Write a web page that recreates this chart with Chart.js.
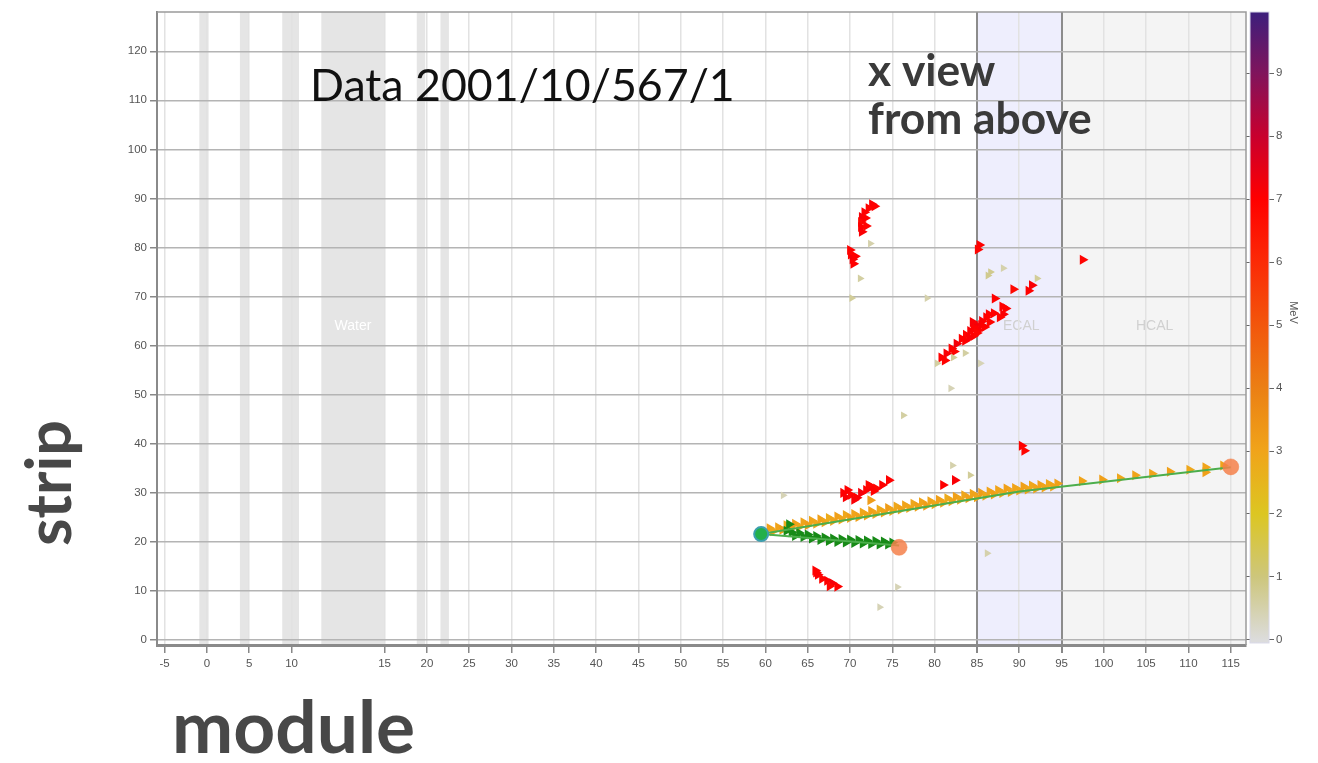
<!DOCTYPE html>
<html>
<head>
<meta charset="utf-8">
<title>x view – module vs strip</title>
<script src="https://cdn.jsdelivr.net/npm/chart.js@4.4.1/dist/chart.umd.min.js"></script>
<style>
  html, body { margin: 0; padding: 0; background: #ffffff; }
  canvas { display: block; }
</style>
</head>
<body>
<canvas id="display" width="1318" height="763"></canvas>
<script>
// ---- axis labels ----
const moduleTicks = [-5, 0, 5, 10, 15, 20, 25, 30, 35, 40, 45, 50, 55, 60, 65, 70, 75, 80, 85, 90, 95, 100, 105, 110, 115];
const stripTicks = [0, 10, 20, 30, 40, 50, 60, 70, 80, 90, 100, 110, 120];
const energyTicks = [0, 1, 2, 3, 4, 5, 6, 7, 8, 9];

// ---- detector regions, in module units ----
const passiveBands = [[-0.9, 0.2], [3.9, 4.9], [8.9, 10.4], [18.8, 19.8], [21.6, 22.6]];
const waterRange = [11.6, 15];
const ecalRange = [85, 95];
const hcalRange = [95, 117];

// ---- energy colour scale (MeV -> colour) ----
const energyStops = [0, 1, 2, 3, 4, 5, 6, 7, 8, 9, 10];
const energyColors = ['#dcdcdc', '#cdc67c', '#dcc622', '#f0a41a', '#eb7f14', '#f2560c', '#fb2a06', '#ff0000', '#c8002e', '#80145c', '#3a1f7d'];

// ---- reconstructed objects ----
const vertex = [[59.5, 21.6]];
const trackEnds = [[115.0, 35.3], [75.8, 18.9]];
const track1Nodes = [[59.5, 21.6], [90.0, 30.3], [115.0, 35.2]];
const track2Nodes = [[59.5, 21.6], [75.8, 19.3]];

// ---- hits on the long track: [module, strip, MeV] ----
const track1Hits = [
  [60.5, 22.8, 3.1], [60.9, 22.2, 2.9], [61.5, 23.0, 3.0], [62.0, 22.5, 3.2], [62.5, 23.4, 2.8],
  [63.0, 22.8, 3.0], [63.5, 23.7, 3.1], [64.0, 23.1, 2.9], [64.5, 24.0, 3.0], [65.0, 23.4, 3.2],
  [65.5, 24.3, 3.0], [66.0, 23.7, 2.9], [66.5, 24.6, 3.1], [67.0, 24.0, 3.0], [67.5, 24.9, 2.8],
  [68.0, 24.3, 3.0], [68.5, 25.2, 3.1], [69.0, 24.6, 3.0], [69.5, 25.5, 2.9], [70.0, 24.9, 3.2],
  [70.5, 25.7, 3.0], [71.0, 25.1, 3.1], [71.5, 26.0, 2.9], [72.0, 25.4, 3.0], [72.5, 26.3, 3.1],
  [73.0, 25.7, 3.0], [73.5, 26.6, 2.8], [74.0, 26.0, 3.0], [74.5, 26.9, 3.2], [75.0, 26.3, 3.0],
  [75.5, 27.2, 2.9], [76.0, 26.6, 3.1], [76.5, 27.5, 3.0], [77.0, 26.9, 3.0], [77.5, 27.8, 2.9],
  [78.0, 27.2, 3.1], [78.5, 28.1, 3.0], [79.0, 27.4, 3.2], [79.5, 28.3, 3.0], [80.0, 27.7, 2.9],
  [80.5, 28.6, 3.1], [81.0, 28.0, 3.0], [81.5, 28.9, 2.8], [82.0, 28.3, 3.0], [82.5, 29.2, 3.1],
  [83.0, 28.6, 3.0], [83.5, 29.5, 2.9], [84.0, 28.9, 3.1], [84.5, 29.8, 3.0], [85.0, 29.1, 3.0],
  [85.5, 30.0, 3.2], [86.0, 29.4, 2.9], [86.5, 30.3, 3.0], [87.0, 29.7, 3.1], [87.5, 30.6, 3.0],
  [88.0, 30.0, 2.9], [88.5, 30.9, 3.1], [89.0, 30.2, 3.0], [89.5, 31.0, 3.0], [90.0, 30.5, 2.9],
  [90.5, 31.3, 3.1], [91.0, 30.7, 3.0], [91.5, 31.5, 2.9], [92.0, 30.9, 3.0], [92.5, 31.6, 3.1],
  [93.0, 31.1, 3.0], [93.5, 31.8, 2.9], [94.0, 31.3, 3.0], [94.5, 31.9, 3.1],
  [97.4, 32.4, 3.0], [99.8, 32.7, 3.1], [101.9, 33.0, 2.9], [103.7, 33.6, 3.0], [105.7, 33.9, 3.0],
  [107.8, 34.3, 3.1], [110.1, 34.7, 2.9], [112.0, 35.2, 3.0], [112.0, 34.2, 3.1], [114.1, 35.6, 3.0]
];

// ---- hits on the short track: [module, strip] ----
const track2Hits = [
  [62.5, 22.3], [62.8, 23.6], [63.1, 22.0], [63.5, 21.2], [64.0, 21.8], [64.5, 21.0], [65.0, 21.5],
  [65.5, 20.7], [66.0, 21.2], [66.5, 20.4], [67.0, 20.9], [67.5, 20.2], [68.0, 20.7], [68.5, 20.0],
  [69.0, 20.6], [69.5, 19.9], [70.0, 20.5], [70.5, 19.8], [71.0, 20.4], [71.5, 19.7], [72.0, 20.3],
  [72.5, 19.6], [73.0, 20.2], [73.5, 19.5], [74.0, 20.1], [74.5, 19.5], [75.0, 19.9]
];

// ---- unassociated hits: [module, strip, MeV] ----
const otherHits = [
  // upper cluster
  [72.6, 88.8, 7.1], [72.2, 88.0, 6.9], [71.7, 87.2, 7.0], [71.4, 86.2, 7.2], [71.3, 85.2, 6.8],
  [71.3, 84.2, 7.0], [71.4, 83.2, 7.1], [71.8, 86.0, 7.0], [71.9, 84.4, 6.9], [72.9, 88.4, 7.0],
  [70.0, 79.5, 7.0], [70.1, 78.6, 6.9], [70.3, 77.6, 7.2], [70.4, 76.7, 7.0], [70.6, 78.2, 7.0],
  // shower toward the ECAL
  [80.8, 57.6, 7.0], [81.4, 58.4, 7.1], [82.0, 59.4, 7.0], [82.6, 60.4, 7.2], [83.2, 61.4, 7.0],
  [83.7, 62.2, 6.9], [84.2, 63.0, 7.1], [84.6, 62.0, 7.0], [84.9, 64.2, 7.2], [85.2, 63.2, 7.0],
  [85.6, 65.0, 7.1], [86.1, 65.8, 7.0], [86.5, 64.8, 6.9], [87.0, 66.6, 7.0], [88.1, 66.4, 7.1],
  [88.4, 67.6, 7.0], [87.1, 69.6, 7.0], [89.3, 71.5, 6.8], [91.1, 71.2, 7.0], [91.5, 72.3, 7.1],
  [81.2, 57.0, 7.0], [82.3, 58.8, 6.9], [83.6, 61.0, 7.0], [84.1, 61.6, 7.1], [84.6, 63.6, 7.0],
  [85.0, 62.6, 6.9], [85.5, 64.2, 7.1], [85.9, 63.8, 7.0], [86.4, 66.4, 7.0], [84.5, 64.8, 7.1],
  [87.7, 65.8, 6.9], [88.0, 68.0, 7.0],
  [85.3, 80.5, 7.0], [85.1, 79.6, 6.9], [97.5, 77.5, 6.9],
  // near the vertex
  [69.2, 30.0, 7.0], [69.5, 29.1, 7.1], [70.1, 29.6, 6.9], [70.8, 29.0, 7.0], [71.3, 30.0, 7.2],
  [71.9, 30.6, 7.0], [72.5, 31.3, 7.1], [73.1, 30.9, 6.9], [73.8, 31.6, 7.0], [74.6, 32.6, 7.0],
  [69.7, 30.6, 7.0], [70.5, 28.6, 7.1], [72.2, 31.6, 6.9], [72.8, 30.4, 7.0],
  [72.4, 28.5, 3.2],
  [65.9, 14.2, 7.0], [66.2, 13.3, 7.1], [66.7, 12.5, 6.9], [67.3, 12.1, 7.0], [67.9, 11.6, 7.2], [68.5, 10.9, 7.0],
  [66.0, 13.8, 7.0], [67.6, 11.0, 6.9],
  [81.0, 31.6, 7.0], [82.4, 32.6, 7.1], [90.3, 39.6, 7.0], [90.6, 38.6, 6.9],
  // low-energy hits
  [72.4, 80.8, 0.5], [71.2, 73.7, 0.6], [70.2, 69.7, 0.7], [79.1, 69.7, 0.5], [86.3, 74.3, 0.8],
  [86.6, 75.0, 0.8], [88.1, 75.8, 0.5], [92.1, 73.7, 0.7], [82.2, 57.6, 0.7], [83.6, 58.5, 0.6],
  [85.4, 56.4, 0.4], [80.3, 56.4, 0.6], [82.1, 35.6, 0.5], [84.2, 33.6, 0.7], [62.1, 29.5, 0.4],
  [76.3, 45.8, 0.6], [73.5, 6.7, 0.4], [86.2, 17.7, 0.5], [75.6, 10.8, 0.4], [81.9, 51.3, 0.4]
];

// The drawn axis gives the water target extra room between modules 10 and 15.
function toAxis(m) {
  if (m <= 10) return m;
  if (m < 15) return 10 + (m - 10) * 11 / 5;
  return m + 6;
}

function hexToRgb(h) {
  const n = parseInt(h.slice(1), 16);
  return [(n >> 16) & 255, (n >> 8) & 255, n & 255];
}
function energyColor(e) {
  const v = Math.max(energyStops[0], Math.min(energyStops[energyStops.length - 1], e));
  let i = 0;
  while (i < energyStops.length - 2 && v > energyStops[i + 1]) i++;
  const t = (v - energyStops[i]) / (energyStops[i + 1] - energyStops[i]);
  const a = hexToRgb(energyColors[i]), b = hexToRgb(energyColors[i + 1]);
  const c = a.map((x, k) => Math.round(x + (b[k] - x) * t));
  return 'rgb(' + c.join(',') + ')';
}
// faint hits are drawn a little smaller
const hitRadius = (e) => (e < 1 ? 4.5 : 5.8);

const pt = (p) => ({ x: toAxis(p[0]), y: p[1] });

const TICK_FONT = { family: "'Liberation Sans Narrow', 'Liberation Sans', Arial, sans-serif", size: 11.5 };
const BIG_FONT = "Lato, 'Open Sans', 'DejaVu Sans', sans-serif";

// Detector regions, frame, colour bar and captions
const detectorPlugin = {
  id: 'detector',
  beforeDraw(chart) {
    const { ctx, chartArea: a, scales } = chart;
    const x = scales.x;
    const px = (m) => x.getPixelForValue(toAxis(m));
    ctx.save();
    ctx.beginPath();
    ctx.rect(a.left, a.top, a.right - a.left, a.bottom - a.top);
    ctx.clip();
    ctx.fillStyle = '#f4f4f4';
    ctx.fillRect(px(hcalRange[0]), a.top, px(hcalRange[1]) - px(hcalRange[0]), a.bottom - a.top);
    ctx.fillStyle = '#eeeefd';
    ctx.fillRect(px(ecalRange[0]), a.top, px(ecalRange[1]) - px(ecalRange[0]), a.bottom - a.top);
    ctx.fillStyle = '#e5e5e5';
    ctx.fillRect(px(waterRange[0]), a.top, px(waterRange[1]) - px(waterRange[0]), a.bottom - a.top);
    passiveBands.forEach(b => {
      ctx.fillRect(px(b[0]), a.top, px(b[1]) - px(b[0]), a.bottom - a.top);
    });
    const ly = scales.y.getPixelForValue(64);
    ctx.font = "14px 'Liberation Sans', Arial, sans-serif";
    ctx.textAlign = 'center';
    ctx.textBaseline = 'middle';
    ctx.fillStyle = '#ffffff';
    ctx.fillText('Water', (px(waterRange[0]) + px(waterRange[1])) / 2, ly);
    ctx.fillStyle = '#d0d0d0';
    ctx.fillText('ECAL', (px(ecalRange[0]) + px(ecalRange[1])) / 2 + 2, ly);
    ctx.fillText('HCAL', (px(hcalRange[0]) + px(hcalRange[1])) / 2, ly);
    ctx.restore();
  },
  afterDraw(chart) {
    const { ctx, chartArea: a, scales } = chart;
    ctx.save();
    // frame
    ctx.strokeStyle = '#9a9a9a';
    ctx.lineWidth = 1.5;
    ctx.beginPath();
    ctx.moveTo(a.left, a.top);
    ctx.lineTo(a.right, a.top);
    ctx.lineTo(a.right, a.bottom);
    ctx.stroke();

    // colour bar along the energy axis
    const e = scales.energy;
    const y0 = e.getPixelForValue(energyStops[0]);
    const y1 = e.getPixelForValue(energyStops[energyStops.length - 1]);
    const top = Math.max(a.top, y1);
    const grad = ctx.createLinearGradient(0, y0, 0, y1);
    energyStops.forEach((s, i) => grad.addColorStop(s / energyStops[energyStops.length - 1], energyColors[i]));
    ctx.fillStyle = grad;
    ctx.fillRect(e.left + 4, top, 19, y0 + 3 - top);
    ctx.strokeStyle = '#d8d8e8';
    ctx.lineWidth = 1;
    ctx.strokeRect(e.left + 4, top, 19, y0 + 3 - top);

    // unit label beside the bar
    ctx.translate(e.left + 47, e.getPixelForValue(5.2));
    ctx.rotate(Math.PI / 2);
    ctx.font = "11px 'Liberation Sans', Arial, sans-serif";
    ctx.fillStyle = '#555';
    ctx.textAlign = 'center';
    ctx.textBaseline = 'middle';
    ctx.fillText('MeV', 0, 0);
    ctx.restore();

    const fitText = (text, weight, width, refSize) => {
      ctx.font = weight + ' ' + refSize + 'px ' + BIG_FONT;
      const w = ctx.measureText(text).width;
      ctx.font = weight + ' ' + (refSize * width / w).toFixed(1) + 'px ' + BIG_FONT;
    };

    ctx.save();
    ctx.textBaseline = 'alphabetic';
    ctx.textAlign = 'left';
    ctx.fillStyle = '#111';
    fitText('Data 2001/10/567/1', 'normal', 425, 44);
    ctx.fillText('Data 2001/10/567/1', 310, 101);

    ctx.fillStyle = '#3a3a3a';
    fitText('from above', 'bold', 224, 32);
    ctx.fillText('x view', 868, 86);
    ctx.fillText('from above', 868, 134);

    ctx.fillStyle = '#484848';
    fitText('module', 'bold', 243, 54);
    ctx.fillText('module', 172, 753);

    fitText('strip', 'bold', 126, 50);
    ctx.translate(71, 546);
    ctx.rotate(-Math.PI / 2);
    ctx.fillText('strip', 0, 0);
    ctx.restore();
  }
};

const isDetectorEdge = (i) => moduleTicks[i] === ecalRange[0] || moduleTicks[i] === ecalRange[1];

new Chart(document.getElementById('display'), {
  type: 'scatter',
  data: {
    datasets: [
      {
        label: 'track ends',
        data: trackEnds.map(pt),
        pointStyle: 'circle',
        pointRadius: 8,
        backgroundColor: 'rgba(244,128,74,0.85)',
        borderColor: 'rgba(244,128,74,0.5)',
        borderWidth: 1
      },
      {
        label: 'vertex',
        data: vertex.map(pt),
        pointStyle: 'circle',
        pointRadius: 7,
        backgroundColor: '#23b04a',
        borderColor: '#3b9fae',
        borderWidth: 2
      },
      {
        label: 'track 1',
        data: track1Nodes.map(pt),
        showLine: true,
        pointRadius: 0,
        borderColor: '#4cae4c',
        borderWidth: 2
      },
      {
        label: 'track 2',
        data: track2Nodes.map(pt),
        showLine: true,
        pointRadius: 0,
        borderColor: '#4cae4c',
        borderWidth: 2
      },
      {
        label: 'track 2 hits',
        data: track2Hits.map(pt),
        pointStyle: 'triangle',
        rotation: 90,
        pointRadius: 5.8,
        borderWidth: 0,
        backgroundColor: '#178a17'
      },
      {
        label: 'track 1 hits',
        data: track1Hits.map(pt),
        pointStyle: 'triangle',
        rotation: 90,
        pointRadius: track1Hits.map(h => hitRadius(h[2])),
        borderWidth: 0,
        backgroundColor: track1Hits.map(h => energyColor(h[2]))
      },
      {
        label: 'other hits',
        data: otherHits.map(pt),
        pointStyle: 'triangle',
        rotation: 90,
        pointRadius: otherHits.map(h => hitRadius(h[2])),
        borderWidth: 0,
        backgroundColor: otherHits.map(h => energyColor(h[2]))
      }
    ]
  },
  options: {
    responsive: false,
    devicePixelRatio: 1,
    animation: false,
    events: [],
    layout: { padding: { top: 12, left: 0, right: 0, bottom: 0 } },
    plugins: { legend: { display: false }, tooltip: { enabled: false } },
    scales: {
      x: {
        type: 'linear',
        min: -5.9,
        max: 122.8,
        afterBuildTicks(scale) { scale.ticks = moduleTicks.map(m => ({ value: toAxis(m) })); },
        afterFit(scale) { scale.height = 118; },
        ticks: {
          autoSkip: false,
          maxRotation: 0,
          padding: 4,
          color: '#555',
          font: TICK_FONT,
          callback: (v, i) => String(moduleTicks[i])
        },
        grid: {
          color: (c) => isDetectorEdge(c.index) ? '#8c8c8c' : '#e2e2e2',
          lineWidth: (c) => isDetectorEdge(c.index) ? 2 : 1.5,
          tickColor: '#888',
          tickLength: 8
        },
        border: { color: '#8a8a8a', width: 3 }
      },
      y: {
        type: 'linear',
        min: -1,
        max: 128,
        afterBuildTicks(scale) { scale.ticks = stripTicks.map(v => ({ value: v })); },
        afterFit(scale) { scale.width = 157; },
        ticks: { color: '#555', font: TICK_FONT, padding: 3 },
        grid: { color: '#b4b4b4', lineWidth: 1.5, tickColor: '#888', tickLength: 7 },
        border: { color: '#8a8a8a', width: 2 }
      },
      energy: {
        type: 'linear',
        position: 'right',
        min: -0.08,
        max: 9.97,
        afterBuildTicks(scale) { scale.ticks = energyTicks.map(v => ({ value: v })); },
        afterFit(scale) { scale.width = 72; },
        ticks: { color: '#555', font: TICK_FONT, padding: 2 },
        grid: { drawOnChartArea: false, color: '#666', tickLength: 28, lineWidth: 1 },
        border: { display: false }
      }
    }
  },
  plugins: [detectorPlugin]
});
</script>
</body>
</html>
